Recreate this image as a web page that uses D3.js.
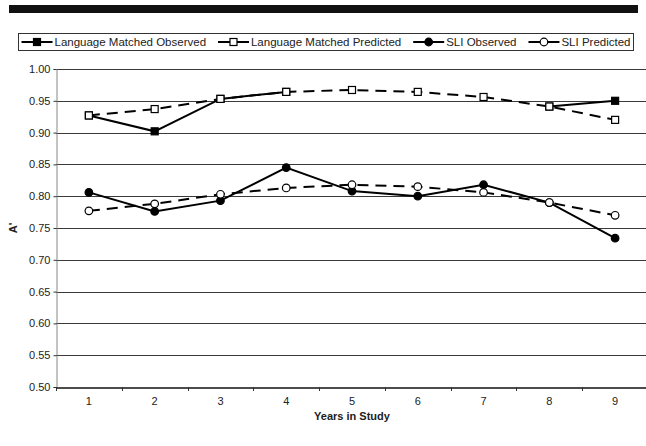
<!DOCTYPE html>
<html>
<head>
<meta charset="utf-8">
<script src="https://cdn.jsdelivr.net/npm/d3@7"></script>
<style>
    body { margin: 0; background: #fff; }
    svg { display: block; font-family: 'Liberation Sans', Arial, sans-serif; }
</style>
</head>
<body>
<svg id="chart" width="646" height="446"></svg>
<script>
// data
const years = ['1', '2', '3', '4', '5', '6', '7', '8', '9'];
const lmObserved = [0.927, 0.902, 0.953, 0.964, null, null, null, 0.941, 0.950];
const lmPredicted = [0.927, 0.937, 0.953, 0.964, 0.967, 0.964, 0.956, 0.941, 0.920];
const sliObserved = [0.806, 0.776, 0.793, 0.845, 0.808, 0.800, 0.818, 0.790, 0.734];
const sliPredicted = [0.777, 0.788, 0.803, 0.813, 0.818, 0.815, 0.806, 0.790, 0.770];
const yTicks = [0.50, 0.55, 0.60, 0.65, 0.70, 0.75, 0.80, 0.85, 0.90, 0.95, 1.00];

const series = [
    { name: 'Language Matched Observed', values: lmObserved, shape: 'square', fill: '#000', dash: null },
    { name: 'Language Matched Predicted', values: lmPredicted, shape: 'square', fill: '#fff', dash: '11,7' },
    { name: 'SLI Observed', values: sliObserved, shape: 'circle', fill: '#000', dash: null },
    { name: 'SLI Predicted', values: sliPredicted, shape: 'circle', fill: '#fff', dash: '11,7' },
];

const svg = d3.select('#chart');
const margin = { left: 56, right: -2, top: 69, bottom: 59 };
const W = 646, H = 446;

const x = d3.scaleBand().domain(years).range([margin.left, W - margin.right]);
const y = d3.scaleLinear().domain([0.5, 1.0]).range([H - margin.bottom, margin.top]);

// top rule
svg.append('rect').attr('x', 9).attr('y', 5).attr('width', 629).attr('height', 8).attr('fill', '#111');

// gridlines
svg.append('g')
    .selectAll('line')
    .data(yTicks.slice(1))
    .enter()
    .append('line')
    .attr('x1', margin.left)
    .attr('x2', W)
    .attr('y1', (d) => Math.round(y(d)) + 0.5)
    .attr('y2', (d) => Math.round(y(d)) + 0.5)
    .attr('stroke', '#3a3a3a')
    .attr('stroke-width', 1);

// y axis
const yAxis = svg.append('g')
    .attr('transform', `translate(${margin.left + 0.5},0)`)
    .call(d3.axisLeft(y).tickValues(yTicks).tickFormat(d3.format('.2f')).tickSize(3).tickPadding(3));
yAxis.select('.domain').attr('stroke', '#888');
yAxis.selectAll('.tick line').attr('stroke', '#333');
yAxis.selectAll('text').attr('font-size', 11).attr('fill', '#222').attr('font-family', null);

// x axis
const xAxis = svg.append('g')
    .attr('transform', `translate(0,${Math.round(y(0.5)) + 0.5})`)
    .call(d3.axisBottom(x).tickSize(0).tickPadding(10));
xAxis.select('.domain').attr('stroke', '#111').attr('stroke-width', 1.5);
xAxis.selectAll('text').attr('font-size', 11).attr('fill', '#222').attr('font-family', null);
svg.append('g')
    .selectAll('line')
    .data(years)
    .enter()
    .append('line')
    .attr('x1', (d) => Math.round(x(d)) + 0.5)
    .attr('x2', (d) => Math.round(x(d)) + 0.5)
    .attr('y1', y(0.5))
    .attr('y2', y(0.5) + 4)
    .attr('stroke', '#333');

// axis titles
svg.append('text')
    .attr('x', x('5') + x.bandwidth() / 2)
    .attr('y', 420)
    .attr('text-anchor', 'middle')
    .attr('font-size', 11)
    .attr('font-weight', 'bold')
    .attr('fill', '#222')
    .text('Years in Study');
svg.append('text')
    .attr('transform', `translate(17,${y(0.75)}) rotate(-90)`)
    .attr('text-anchor', 'middle')
    .attr('font-size', 11)
    .attr('font-weight', 'bold')
    .attr('fill', '#222')
    .text("A'");

// lines and markers
const cx = (i) => x(years[i]) + x.bandwidth() / 2;
const line = d3.line()
    .defined((d) => d !== null)
    .x((d, i) => cx(i))
    .y((d) => y(d));

function marker(g, shape, fill, px, py) {
    if (shape === 'square') {
        g.append('rect')
            .attr('x', px - 3.5).attr('y', py - 3.5)
            .attr('width', 7).attr('height', 7)
            .attr('fill', fill).attr('stroke', '#000').attr('stroke-width', 1.2);
    } else {
        g.append('circle')
            .attr('cx', px).attr('cy', py).attr('r', 3.8)
            .attr('fill', fill).attr('stroke', '#000').attr('stroke-width', 1.2);
    }
}

const plot = svg.append('g');
series.forEach((s) => {
    plot.append('path')
        .attr('d', line(s.values))
        .attr('fill', 'none')
        .attr('stroke', '#000')
        .attr('stroke-width', 2)
        .attr('stroke-dasharray', s.dash);
});
series.forEach((s) => {
    const g = plot.append('g');
    s.values.forEach((v, i) => {
        if (v !== null) marker(g, s.shape, s.fill, cx(i), y(v));
    });
});

// legend
const legend = svg.append('g');
const box = { x: 18.5, y: 33.5, w: 615, h: 17 };
legend.append('rect')
    .attr('x', box.x).attr('y', box.y).attr('width', box.w).attr('height', box.h)
    .attr('fill', '#fff').attr('stroke', '#333');
const items = legend.selectAll('g.item')
    .data(series)
    .enter()
    .append('g')
    .attr('class', 'item');
items.append('text')
    .attr('font-size', 11.5)
    .attr('fill', '#222')
    .attr('y', box.y + 12.5)
    .text((d) => d.name);
const symW = 33;
const widths = [];
items.select('text').each(function () { widths.push(this.getComputedTextLength()); });
const total = d3.sum(widths) + symW * series.length;
const gap = (box.w - 6 - total) / (series.length - 1);
let cur = box.x + 3;
items.each(function (d, i) {
    const g = d3.select(this);
    const my = box.y + box.h / 2;
    g.append('line')
        .attr('x1', cur).attr('x2', cur + symW - 2)
        .attr('y1', my).attr('y2', my)
        .attr('stroke', '#000').attr('stroke-width', 2);
    marker(g, d.shape, d.fill, cur + (symW - 2) / 2, my);
    g.select('text').attr('x', cur + symW);
    cur += symW + widths[i] + gap;
});
</script>
</body>
</html>
